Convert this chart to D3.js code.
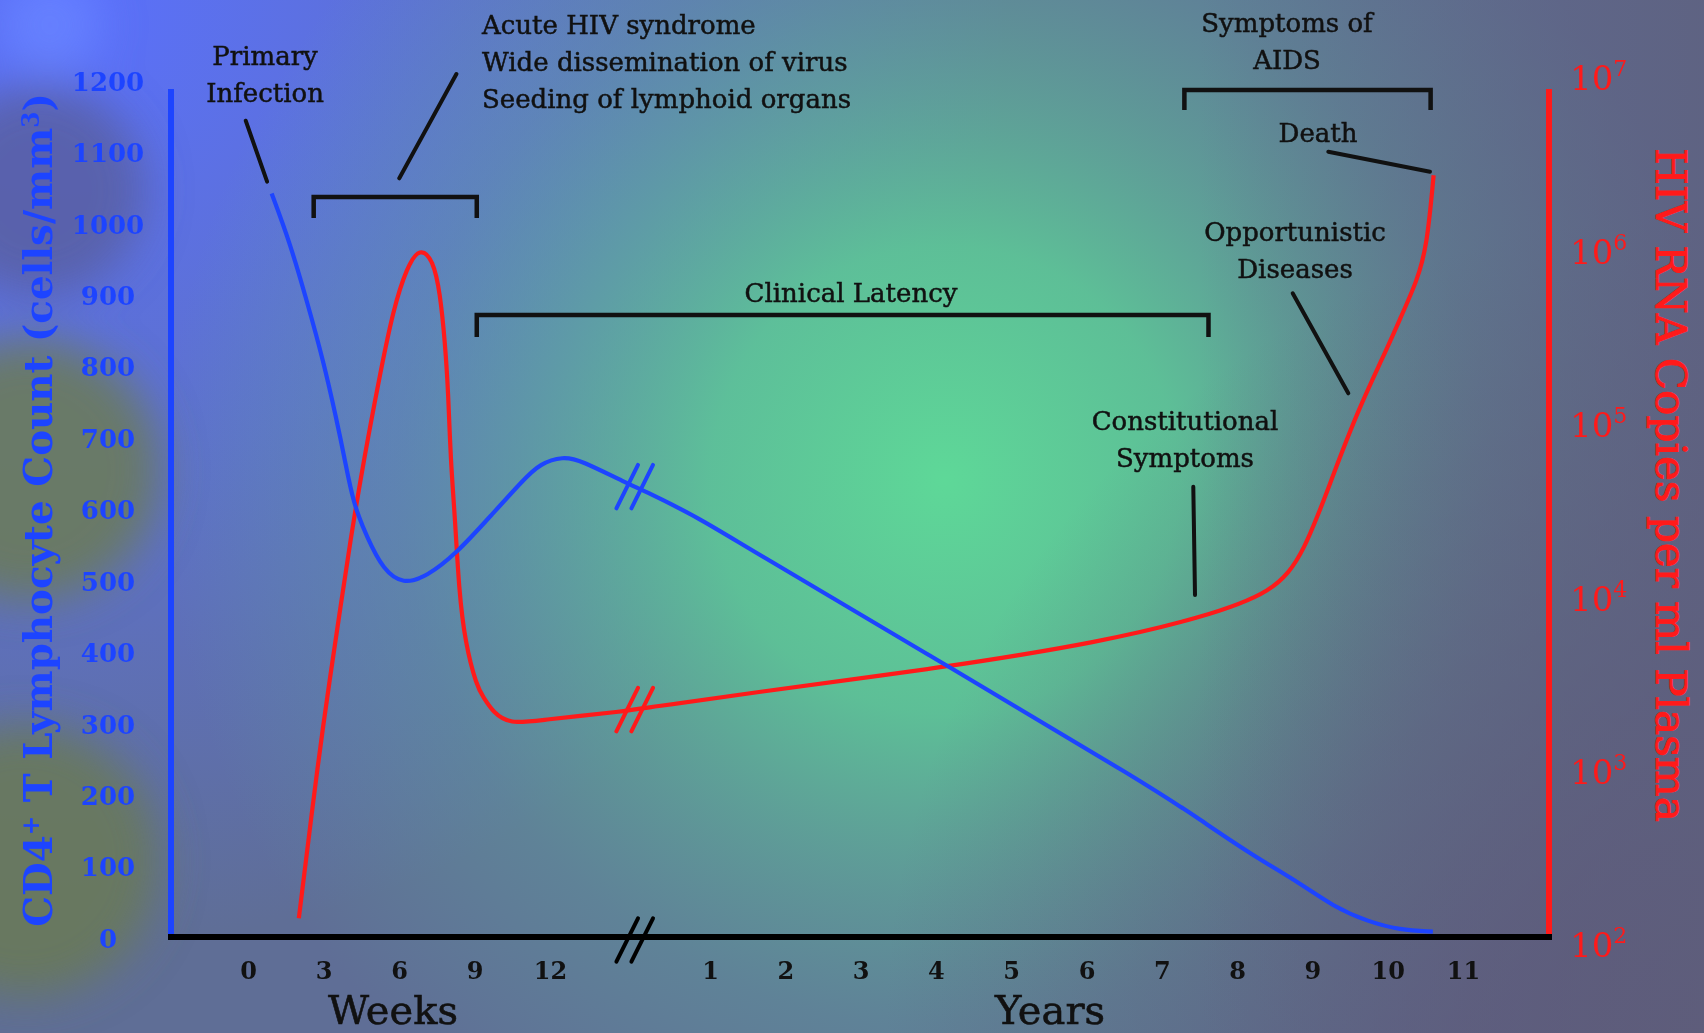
<!DOCTYPE html>
<html>
<head>
<meta charset="utf-8">
<script src="https://cdn.jsdelivr.net/npm/d3@7"></script>
<style>
  body { margin: 0; background: #5f6a8c; overflow: hidden; }
  svg { display: block; }
</style>
</head>
<body>
<svg id="chart" width="1704" height="1033"></svg>
<script>
/* ------------------------------------------------------------------ */
/* ------------------------------ DATA ------------------------------ */
/* ------------------------------------------------------------------ */

let weekTicks = [0, 3, 6, 9, 12]
let yearTicks = [1, 2, 3, 4, 5, 6, 7, 8, 9, 10, 11]
let cd4Ticks = [0, 100, 200, 300, 400, 500, 600, 700, 800, 900, 1000, 1100, 1200]
let rnaTicks = [1e2, 1e3, 1e4, 1e5, 1e6, 1e7]

// CD4+ T cells (cells/mm3) -- weeks part, then years part (after the break)
let cd4WeekTimes = [0.94, 1.67, 2.33, 2.99, 3.52, 3.85, 4.18, 4.72, 5.38, 6.17, 7.1, 8.29, 9.62, 10.94, 11.6, 12.53, 13.19, 15.05]
let cd4WeekValues = [1052, 982, 901, 816, 732, 675, 614, 566, 519, 499, 510, 543, 595, 647, 670, 680, 675, 642]
let cd4YearTimes = [0.16, 0.87, 1.4, 4.1, 6.85, 7.51, 8.17, 8.84, 9.28, 9.73, 10.16, 10.6]
let cd4YearValues = [630, 592, 557, 387, 213, 166, 118, 76, 43, 22, 10, 7.5]

// HIV RNA copies per ml plasma -- weeks part, then years part
let rnaWeekTimes = [2.02, 2.79, 3.26, 3.66, 4.05, 4.6, 5.25, 5.77, 6.31, 6.83, 7.36, 7.63, 7.83, 7.96, 8.05, 8.23, 8.38, 8.63, 9.09, 9.35, 9.75, 10.41, 11.6, 15.07]
let rnaWeekValues = [129, 1100, 3400, 8500, 21000, 65000, 210000, 500000, 890000, 1170000, 980000, 630000, 320000, 160000, 65000, 29000, 11200, 5400, 3000, 2600, 2100, 1800, 1900, 2150]
let rnaYearTimes = [0.16, 1.4, 4.15, 6.2, 7.51, 8.49, 8.89, 9.28, 9.63, 9.94, 10.16, 10.39, 10.52, 10.61]
let rnaYearValues = [2250, 2700, 3900, 5500, 7600, 10700, 18200, 54000, 135000, 263000, 437000, 740000, 1170000, 3100000]

// periods (brackets)
let acutePeriod = [2.61, 9.09]        // weeks
let latencyStart = 9.09               // weeks
let latencyEnd = 7.62                 // years
let aidsPeriod = [7.30, 10.57]        // years

/* ------------------------------------------------------------------ */
/* ----------------------------- SETUP ------------------------------ */
/* ------------------------------------------------------------------ */

let svg = d3.select('#chart')
let width = +svg.attr('width')
let height = +svg.attr('height')

let blue = '#1d44ff'
let red = '#ff1a1a'
let ink = '#111'
let serif = '"DejaVu Serif", serif'

let xWeeks = d3.scaleLinear().domain([0, 12]).range([248, 550])
let xYears = d3.scaleLinear().domain([1, 11]).range([710, 1463])
let yCount = d3.scaleLinear().domain([0, 1200]).range([937, 89])
let yCopies = d3.scaleLog().domain([1e2, 1e7]).range([937, 89])
// tick labels sit on a slightly wider spacing than the plot in the original
let yCountLabels = yCount.copy().range([939, 82])
let yCopiesLabels = yCopies.copy().range([946, 79])
let breakX = xYears(0)
let leftX = 171
let rightX = 1549
let baseY = yCount(0)

/* -------------------------- BACKGROUND -------------------------- */

let defs = svg.append('defs')

function radial(id, cx, cy, r, stops) {
    let g = defs.append('radialGradient').attr('id', id)
        .attr('gradientUnits', 'userSpaceOnUse')
        .attr('cx', cx).attr('cy', cy).attr('r', r)
    for (let s of stops) {
        g.append('stop').attr('offset', s[0]).attr('stop-color', s[1]).attr('stop-opacity', s[2])
    }
}

radial('gBlue', 60, 0, 950, [[0, '#5a70ff', 1], [0.5, '#5d72e2', 0.7], [1, '#5d72e2', 0]])
radial('gGreen', 945, 480, 780, [[0, '#5ed898', 1], [0.3, '#5dcd97', 0.85], [0.7, '#5fa89a', 0.35], [1, '#5fa89a', 0]])
radial('gDark', 1704, 1033, 820, [[0, '#5d5576', 0.95], [1, '#5d5576', 0]])

let rightFade = defs.append('linearGradient').attr('id', 'gRight')
    .attr('gradientUnits', 'userSpaceOnUse')
    .attr('x1', 1200).attr('y1', 0).attr('x2', 1704).attr('y2', 0)
rightFade.append('stop').attr('offset', 0).attr('stop-color', '#5e5f7c').attr('stop-opacity', 0)
rightFade.append('stop').attr('offset', 1).attr('stop-color', '#5e5f7c').attr('stop-opacity', 0.75)

defs.append('filter').attr('id', 'blur')
    .attr('x', '-50%').attr('y', '-50%').attr('width', '200%').attr('height', '200%')
    .append('feGaussianBlur').attr('stdDeviation', 22)

let bg = svg.append('g')
bg.append('rect').attr('width', width).attr('height', height).attr('fill', '#5f6e96')
for (let id of ['gBlue', 'gGreen', 'gDark', 'gRight']) {
    bg.append('rect').attr('width', width).attr('height', height).attr('fill', 'url(#' + id + ')')
}

let blobs = bg.append('g').attr('filter', 'url(#blur)')
blobs.append('circle').attr('cx', 40).attr('cy', 190).attr('r', 105).attr('fill', '#595e9e').attr('opacity', 0.8)
blobs.append('circle').attr('cx', 30).attr('cy', 470).attr('r', 130).attr('fill', '#6b7b55').attr('opacity', 0.85)
blobs.append('circle').attr('cx', 25).attr('cy', 860).attr('r', 135).attr('fill', '#6a7a55').attr('opacity', 0.85)
blobs.append('circle').attr('cx', 50).attr('cy', 25).attr('r', 50).attr('fill', '#6b86ff').attr('opacity', 0.7)

/* -------------------------- ANNOTATIONS -------------------------- */

let notes = svg.append('g')
    .attr('font-family', serif).attr('font-size', 26).attr('fill', ink)
    .attr('stroke', ink).attr('stroke-width', 0.5)

let noteTexts = [
    { lines: ['Primary', 'Infection'], x: 265, y: 65, anchor: 'middle' },
    { lines: ['Acute HIV syndrome', 'Wide dissemination of virus', 'Seeding of lymphoid organs'], x: 482, y: 34, anchor: 'start' },
    { lines: ['Clinical Latency'], x: 851, y: 302, anchor: 'middle' },
    { lines: ['Symptoms of', 'AIDS'], x: 1287, y: 32, anchor: 'middle' },
    { lines: ['Death'], x: 1318, y: 142, anchor: 'middle' },
    { lines: ['Opportunistic', 'Diseases'], x: 1295, y: 241, anchor: 'middle' },
    { lines: ['Constitutional', 'Symptoms'], x: 1185, y: 430, anchor: 'middle' }
]

for (let n of noteTexts) {
    let t = notes.append('text').attr('text-anchor', n.anchor)
    n.lines.forEach(function (line, i) {
        t.append('tspan').attr('x', n.x).attr('y', n.y + i * 37).text(line)
    })
}

let leaders = [
    [245.7, 120.7, 267.1, 181.7],
    [456.4, 74, 399.3, 178.3],
    [1328.3, 151.7, 1430, 171.7],
    [1292.7, 293.3, 1348.3, 393.3],
    [1193.3, 486.7, 1195, 595]
]
notes.selectAll('line.leader')
    .data(leaders)
    .enter()
        .append('line')
        .attr('x1', d => d[0]).attr('y1', d => d[1])
        .attr('x2', d => d[2]).attr('y2', d => d[3])
        .attr('stroke', ink).attr('stroke-width', 4).attr('stroke-linecap', 'round')

let brackets = [
    { x1: xWeeks(acutePeriod[0]), x2: xWeeks(acutePeriod[1]), y: 197, drop: 21 },
    { x1: xWeeks(latencyStart), x2: xYears(latencyEnd), y: 315, drop: 22 },
    { x1: xYears(aidsPeriod[0]), x2: xYears(aidsPeriod[1]), y: 90, drop: 20 }
]
notes.selectAll('path.bracket')
    .data(brackets)
    .enter()
        .append('path')
        .attr('d', d => 'M' + d.x1 + ',' + (d.y + d.drop) + 'V' + d.y + 'H' + d.x2 + 'V' + (d.y + d.drop))
        .attr('fill', 'none').attr('stroke', ink).attr('stroke-width', 4.5)

/* ----------------------------- CURVES ----------------------------- */

let line = d3.line().curve(d3.curveBasis)

let cd4Points = cd4WeekTimes.map((t, i) => [xWeeks(t), yCount(cd4WeekValues[i])])
    .concat(cd4YearTimes.map((t, i) => [xYears(t), yCount(cd4YearValues[i])]))
let rnaPoints = rnaWeekTimes.map((t, i) => [xWeeks(t), yCopies(rnaWeekValues[i])])
    .concat(rnaYearTimes.map((t, i) => [xYears(t), yCopies(rnaYearValues[i])]))

let rnaPath = svg.append('path').attr('d', line(rnaPoints))
    .attr('fill', 'none').attr('stroke', red).attr('stroke-width', 4.2)
let cd4Path = svg.append('path').attr('d', line(cd4Points))
    .attr('fill', 'none').attr('stroke', blue).attr('stroke-width', 4.2)

function yAtX(path, x) {
    let node = path.node()
    let lo = 0, hi = node.getTotalLength()
    for (let k = 0; k < 40; k++) {
        let mid = (lo + hi) / 2
        if (node.getPointAtLength(mid).x < x) lo = mid
        else hi = mid
    }
    return node.getPointAtLength(lo).y
}

/* ------------------------------ AXES ------------------------------ */

// axis lines
svg.append('line')
    .attr('x1', leftX).attr('x2', leftX).attr('y1', yCount.range()[1]).attr('y2', baseY)
    .attr('stroke', blue).attr('stroke-width', 6)
svg.append('line')
    .attr('x1', rightX).attr('x2', rightX).attr('y1', yCopies.range()[1]).attr('y2', baseY)
    .attr('stroke', red).attr('stroke-width', 6)
svg.append('line')
    .attr('x1', leftX - 3).attr('x2', rightX + 3)
    .attr('y1', baseY).attr('y2', baseY)
    .attr('stroke', '#000').attr('stroke-width', 6)

let leftAxis = svg.append('g')
    .attr('transform', 'translate(' + leftX + ',0)')
    .call(d3.axisLeft(yCountLabels).tickValues(cd4Ticks).tickFormat(d3.format('d')).tickSize(0).tickPadding(0))
leftAxis.select('.domain').remove()
leftAxis.selectAll('text')
    .attr('x', 108 - leftX).attr('text-anchor', 'middle')
    .attr('fill', blue).attr('font-family', serif).attr('font-weight', 'bold').attr('font-size', 26)

let rightAxis = svg.append('g')
    .attr('transform', 'translate(' + rightX + ',0)')
    .call(d3.axisRight(yCopiesLabels).tickValues(rnaTicks).tickSize(0).tickPadding(21))
rightAxis.select('.domain').remove()
rightAxis.selectAll('text')
    .attr('fill', red).attr('font-family', serif).attr('font-size', 34)
    .text('')
    .each(function (d) {
        let t = d3.select(this)
        t.append('tspan').text('10')
        t.append('tspan').attr('font-size', 22).attr('dy', -14).text(Math.round(Math.log10(d)))
    })

function bottomAxis(scale, ticks) {
    let g = svg.append('g')
        .attr('transform', 'translate(0,' + baseY + ')')
        .call(d3.axisBottom(scale).tickValues(ticks).tickSize(0).tickPadding(25))
    g.select('.domain').remove()
    g.selectAll('text')
        .attr('fill', ink).attr('font-family', serif).attr('font-weight', 'bold').attr('font-size', 24)
}
bottomAxis(xWeeks, weekTicks)
bottomAxis(xYears, yearTicks)

svg.append('text').attr('x', 393).attr('y', 1024)
    .attr('text-anchor', 'middle').attr('font-family', serif).attr('font-size', 40).attr('fill', ink)
    .attr('stroke', ink).attr('stroke-width', 0.6)
    .text('Weeks')
svg.append('text').attr('x', 1050).attr('y', 1024)
    .attr('text-anchor', 'middle').attr('font-family', serif).attr('font-size', 40).attr('fill', ink)
    .attr('stroke', ink).attr('stroke-width', 0.6)
    .text('Years')

/* ------------------------- BREAK MARKS ------------------------- */

function breakMark(cy, color) {
    let g = svg.append('g').attr('stroke', color).attr('stroke-width', 4).attr('stroke-linecap', 'round')
    for (let off of [-7.5, 7.5]) {
        g.append('line')
            .attr('x1', breakX + off - 10.8).attr('y1', cy + 21.7)
            .attr('x2', breakX + off + 10.8).attr('y2', cy - 21.7)
    }
}
breakMark(yAtX(cd4Path, breakX), blue)
breakMark(yAtX(rnaPath, breakX), red)
breakMark(baseY + 3, '#000')

/* ------------------------- AXIS TITLES ------------------------- */

function fitTitle(text, target) {
    let len = text.node().getComputedTextLength()
    let size = +text.attr('font-size')
    text.attr('font-size', size * target / len)
}

let leftTitle = svg.append('text')
    .attr('transform', 'translate(52,510) rotate(-90)')
    .attr('text-anchor', 'middle')
    .attr('font-family', serif).attr('font-weight', 'bold').attr('font-size', 40).attr('fill', blue)
leftTitle.append('tspan').text('CD4')
leftTitle.append('tspan').attr('baseline-shift', 'super').attr('font-size', '0.6em').text('+')
leftTitle.append('tspan').text(' T Lymphocyte Count (cells/mm')
leftTitle.append('tspan').attr('baseline-shift', 'super').attr('font-size', '0.6em').text('3')
leftTitle.append('tspan').text(')')
fitTitle(leftTitle, 834)

let rightTitle = svg.append('text')
    .attr('transform', 'translate(1656,485) rotate(90)')
    .attr('text-anchor', 'middle')
    .attr('font-family', serif).attr('font-size', 40).attr('fill', red)
    .attr('stroke', red).attr('stroke-width', 0.9)
    .text('HIV RNA Copies per ml Plasma')
fitTitle(rightTitle, 674)
</script>
</body>
</html>
